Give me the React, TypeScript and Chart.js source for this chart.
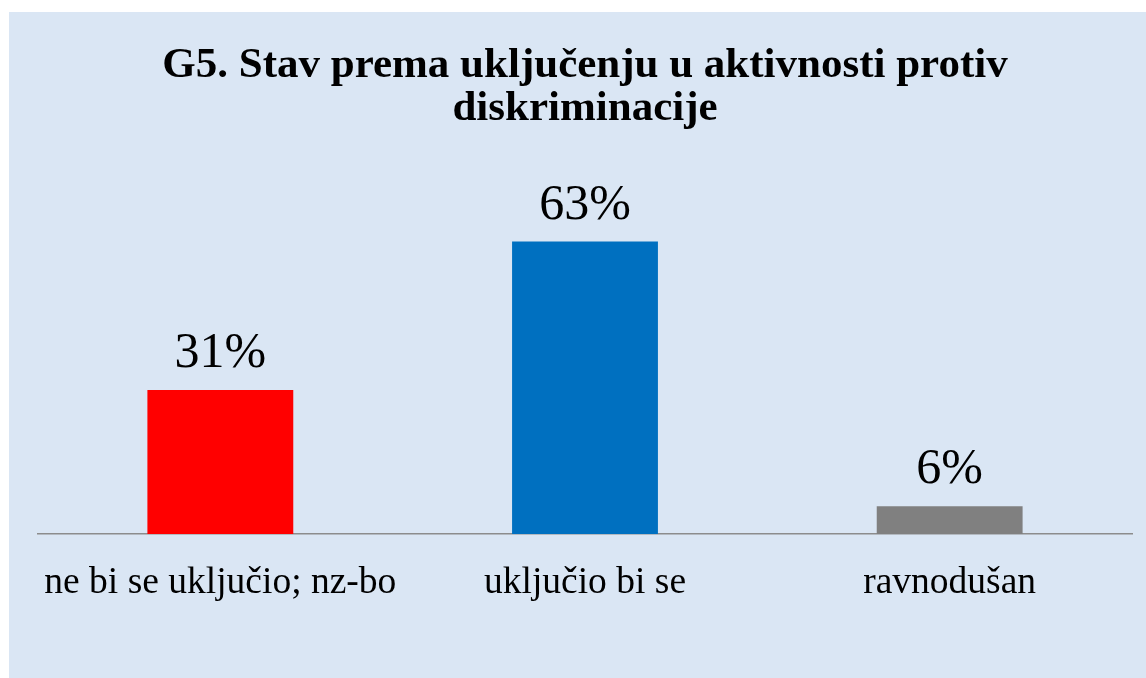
import React, { useEffect, useRef } from "react";
import { Chart, registerables } from "chart.js";

Chart.register(...registerables);

const categories = ["ne bi se uključio; nz-bo", "uključio bi se", "ravnodušan"];
const values = [31, 63, 6];
const barColors = ["#FF0000", "#0070C0", "#808080"];
const titleLines = ["G5. Stav prema uključenju u aktivnosti protiv", "diskriminacije"];

const FONT = "'Liberation Serif', 'Times New Roman', serif";

const valueLabels = {
  id: "valueLabels",
  afterDatasetsDraw(chart: any) {
    const ctx = chart.ctx;
    const meta = chart.getDatasetMeta(0);
    ctx.save();
    ctx.font = `50px ${FONT}`;
    ctx.fillStyle = "#000000";
    ctx.textAlign = "center";
    ctx.textBaseline = "alphabetic";
    meta.data.forEach((bar: any, i: number) => {
      ctx.fillText(`${values[i]}%`, bar.x, bar.y - 23);
    });
    ctx.restore();
  },
};

export default function App() {
  const ref = useRef<HTMLCanvasElement | null>(null);
  useEffect(() => {
    document.body.style.margin = "0";
    const chart = new Chart(ref.current as HTMLCanvasElement, {
      type: "bar",
      data: {
        labels: categories,
        datasets: [
          {
            data: values,
            backgroundColor: barColors,
            borderWidth: 0,
            barPercentage: 0.4,
            categoryPercentage: 1,
          },
        ],
      },
      options: {
        animation: false,
        responsive: false,
        maintainAspectRatio: false,
        layout: { padding: { left: 29, right: 14, top: 0, bottom: 45 } },
        plugins: {
          legend: { display: false },
          tooltip: { enabled: false },
          title: {
            display: true,
            text: titleLines,
            color: "#000000",
            font: { family: FONT, size: 43, weight: "bold", lineHeight: 1.0 },
            padding: { top: 32, bottom: 79 },
          },
        },
        scales: {
          x: {
            grid: { display: false, drawTicks: false },
            border: { display: true, color: "#8C8C8C", width: 1.5 },
            ticks: {
              color: "#000000",
              font: { family: FONT, size: 37.5, lineHeight: 1.2 },
              padding: 27,
              maxRotation: 0,
              autoSkip: false,
            },
          },
          y: {
            display: false,
            min: 0,
            max: 70,
          },
        },
      },
      plugins: [valueLabels],
    });
    return () => chart.destroy();
  }, []);
  return (
    <div
      style={{
        position: "absolute",
        left: 9,
        top: 12,
        width: 1137,
        height: 666,
        background: "#DAE6F4",
      }}
    >
      <canvas ref={ref} width={1137} height={666} style={{ display: "block" }} />
    </div>
  );
}
